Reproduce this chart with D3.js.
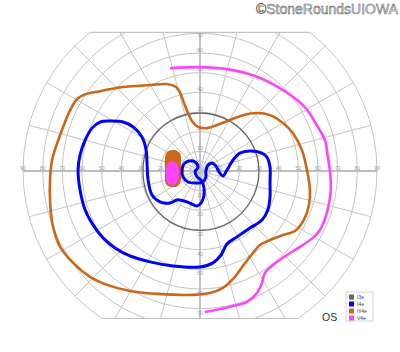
<!DOCTYPE html>
<html>
<head>
<meta charset="utf-8">
<script src="https://cdn.jsdelivr.net/npm/d3@7"></script>
<style>
  html, body { margin: 0; padding: 0; background: #fff; }
  svg { display: block; font-family: "Liberation Sans", Arial, sans-serif; }
</style>
</head>
<body>
<div id="chart"></div>
<script>
// visual field points, degrees [horizontal, vertical]
const isopterV4e = [[-14.7,52.3],[0,52.8],[13.7,51.8],[28.0,48.3],[42.2,41.1],[53.3,32.5],[59.9,22.4],[63.5,15.7],
  [65.0,7.1],[66.0,0.5],[66.5,-9.7],[64.5,-21.3],[61.0,-30.0],[57.4,-34.0],[50.8,-38.6],[44.2,-42.7],[37.1,-47.8],
  [33.0,-51.8],[31.5,-56.9],[29.0,-62.0],[23.9,-66.5],[16.8,-68.6],[8.6,-70.6],[3.0,-71.6]];

const isopterIII4e = [[-62.5,36.6],[-59.4,38.6],[-50.8,40.6],[-39.1,42.7],[-25.4,43.7],[-16.8,44.2],[-12.2,42.7],
  [-10.2,40.1],[-8.1,34.5],[-6.1,29.5],[-4.1,25.4],[-1.0,22.4],[3.6,21.8],[8.6,23.4],[15.2,25.9],[21.8,28.4],
  [29.0,29.5],[35.6,28.4],[42.2,24.4],[47.2,19.3],[51.8,10.7],[54.4,0.5],[55.9,-9.7],[55.4,-17.3],[52.8,-24.9],
  [48.3,-30.5],[42.2,-32.5],[35.6,-35.1],[30.5,-37.6],[26.9,-41.7],[21.8,-48.3],[16.8,-54.9],[11.7,-59.4],
  [5.1,-62.0],[-3.6,-63.0],[-10.2,-63.0],[-21.8,-62.5],[-35.6,-61.0],[-47.2,-57.9],[-55.9,-53.8],[-64.5,-46.7],
  [-71.1,-38.6],[-74.7,-28.4],[-76.2,-16.3],[-76.2,-3.0],[-75.2,5.6],[-72.6,14.2],[-69.6,22.4],[-66.0,31.0]];

const isopterI4e = [[-1.5,-17.8],[-6.6,-15.7],[-11.7,-14.7],[-15.2,-16.3],[-20.3,-15.7],[-24.4,-12.2],[-26.4,-4.6],
  [-26.9,3.0],[-27.4,10.7],[-29.5,17.3],[-34.0,22.4],[-39.1,24.9],[-45.7,25.4],[-50.8,24.9],[-54.9,21.8],
  [-58.4,15.7],[-61.0,8.1],[-62.0,0.5],[-61.0,-9.7],[-58.4,-19.8],[-54.4,-27.4],[-49.3,-34.0],[-43.2,-39.1],
  [-35.6,-43.2],[-25.4,-46.2],[-13.7,-48.3],[0,-48.8],[6.6,-46.7],[10.7,-42.7],[13.7,-37.1],[18.8,-33.5],
  [25.4,-29.0],[31.5,-24.9],[34.5,-19.8],[35.6,-13.2],[35.6,-6.1],[35.6,2.0],[34.0,7.1],[31.5,9.1],[25.4,10.2],
  [20.3,9.1],[16.8,5.6],[13.7,0.5],[11.7,-2.5],[9.7,-0.5],[8.1,2.5],[6.1,4.1],[4.1,3.0],[3.0,0],[3.0,-3.0],
  [1.5,-5.6],[-2.0,-6.1],[-6.1,-5.6],[-8.6,-3.0],[-9.1,0.5],[-8.1,3.6],[-5.6,5.1],[-2.5,4.6],[-1.0,2.0],
  [-2.5,-0.5],[-1.5,-3.0],[1.0,-5.1],[2.0,-8.6],[2.0,-12.7],[0.5,-16.3]];

// I3e, [meridian, eccentricity]
const isopterI3e = [[0,30],[30,29.8],[60,29.5],[90,29.5],[120,29.5],[150,29.5],[180,29],[210,29.5],[240,30],
  [270,30.2],[300,30.2],[330,30]];

// blind spot
const scotomaIII4e = [[-16.8,9.7],[-13.2,10.7],[-10.2,9.1],[-9.7,3.0],[-9.7,-4.6],[-11.2,-7.6],[-14.7,-8.1],
  [-17.3,-6.6],[-17.8,0.5],[-17.8,6.6]];
const scotomaV4e = [[-16.3,4.1],[-12.7,4.6],[-11.2,2.5],[-10.7,-2.0],[-11.7,-6.1],[-14.7,-7.1],[-16.8,-5.6],[-17.3,-0.5]];

const rings = [5, 10, 20, 30, 40, 50, 60, 70, 80, 90];
const axisLabels = [10, 20, 30, 40, 50, 60, 70, 80, 90];
const vertLabels = [10, 20, 30, 40, 50, 60, 70];
const meridians = d3.range(0, 360, 15);
const legendNames = ["I3e", "I4e", "III4e", "V4e"];
const legendColors = ["#666666", "#0000ff", "#cc6618", "#ff44ff"];

const width = 400, height = 352;
const cx = 200, cy = 171, R = 177;
const topLimit = 70.5, bottomLimit = -75;

const x = d3.scaleLinear().domain([-90, 90]).range([cx - R, cx + R]);
const y = d3.scaleLinear().domain([-90, 90]).range([cy + R, cy - R]);
const r = d3.scaleLinear().domain([0, 90]).range([0, R]);

const svg = d3.select("#chart").append("svg")
    .attr("width", width)
    .attr("height", height);

svg.append("defs").append("clipPath")
    .attr("id", "field")
    .append("rect")
    .attr("x", 0)
    .attr("y", y(topLimit))
    .attr("width", width)
    .attr("height", y(bottomLimit) - y(topLimit));

const grid = svg.append("g").attr("clip-path", "url(#field)");

grid.selectAll("circle.ring")
    .data(rings)
    .join("circle")
    .attr("class", "ring")
    .attr("cx", cx).attr("cy", cy)
    .attr("r", d => r(d))
    .attr("fill", "none")
    .attr("stroke", "#c4c4c4")
    .attr("stroke-width", 1);

grid.selectAll("line.meridian")
    .data(meridians)
    .join("line")
    .attr("class", "meridian")
    .attr("x1", cx).attr("y1", cy)
    .attr("x2", d => x(90 * Math.cos(d * Math.PI / 180)))
    .attr("y2", d => y(90 * Math.sin(d * Math.PI / 180)))
    .attr("stroke", d => d % 90 === 0 ? "#bdbdbd" : "#c4c4c4")
    .attr("stroke-width", d => d % 90 === 0 ? 1.8 : 1);

// top and bottom chords
[topLimit, bottomLimit].forEach(v => {
  const half = Math.sqrt(90 * 90 - v * v);
  svg.append("line")
    .attr("x1", x(-half)).attr("x2", x(half))
    .attr("y1", y(v)).attr("y2", y(v))
    .attr("stroke", "#c4c4c4")
    .attr("stroke-width", 1.2);
});

// axis labels
const labels = svg.append("g")
    .attr("font-size", 5)
    .attr("fill", "#9a9a9a")
    .attr("text-anchor", "middle");
axisLabels.forEach(v => {
  labels.append("text").attr("x", x(v)).attr("y", cy - 1).text(v);
  labels.append("text").attr("x", x(-v)).attr("y", cy - 1).text(v);
});
vertLabels.forEach(v => {
  labels.append("text").attr("x", cx).attr("y", v === 70 ? y(v) + 4 : y(v) - 1.5).text(v);
  labels.append("text").attr("x", cx).attr("y", y(-v) + 6).text(v);
});

const closed = d3.line().x(d => x(d[0])).y(d => y(d[1])).curve(d3.curveCatmullRomClosed.alpha(0.5));
const open = d3.line().x(d => x(d[0])).y(d => y(d[1])).curve(d3.curveCatmullRom.alpha(0.5));

// blind spot fills
svg.append("path").attr("d", closed(scotomaIII4e)).attr("fill", legendColors[2]);
svg.append("path").attr("d", closed(scotomaV4e)).attr("fill", legendColors[3]);

// I3e
const polar = isopterI3e.map(d => [d[1] * Math.cos(d[0] * Math.PI / 180), d[1] * Math.sin(d[0] * Math.PI / 180)]);
svg.append("path").attr("d", closed(polar))
    .attr("fill", "none").attr("stroke", legendColors[0]).attr("stroke-width", 1.3);

svg.append("path").attr("d", closed(isopterI4e))
    .attr("fill", "none").attr("stroke", legendColors[1]).attr("stroke-width", 3)
    .attr("stroke-linejoin", "round");
svg.append("path").attr("d", closed(isopterIII4e))
    .attr("fill", "none").attr("stroke", legendColors[2]).attr("stroke-width", 2.6)
    .attr("stroke-linejoin", "round");
svg.append("path").attr("d", open(isopterV4e))
    .attr("fill", "none").attr("stroke", legendColors[3]).attr("stroke-width", 2.6)
    .attr("stroke-linecap", "round");

// legend
const legend = svg.append("g").attr("transform", "translate(346,292)");
legend.append("rect")
    .attr("width", 27).attr("height", 29)
    .attr("fill", "#fff").attr("stroke", "#c8c8c8").attr("stroke-width", 0.8);
legendNames.forEach((name, i) => {
  legend.append("rect")
    .attr("x", 3).attr("y", 2.5 + i * 7)
    .attr("width", 5).attr("height", 5)
    .attr("fill", legendColors[i]);
  legend.append("text")
    .attr("x", 11).attr("y", 6.8 + i * 7)
    .attr("font-size", 5)
    .attr("fill", "#444")
    .text(name);
});

svg.append("text")
    .attr("x", 322).attr("y", 320.5)
    .attr("font-size", 10.5)
    .attr("fill", "#333")
    .text("OS");

svg.append("text")
    .attr("x", 398).attr("y", 14)
    .attr("text-anchor", "end")
    .attr("font-size", 14)
    .attr("fill", "#e4e4e4")
    .attr("stroke", "#4a4a4a")
    .attr("stroke-width", 0.45)
    .text("©StoneRoundsUIOWA");
</script>
</body>
</html>
